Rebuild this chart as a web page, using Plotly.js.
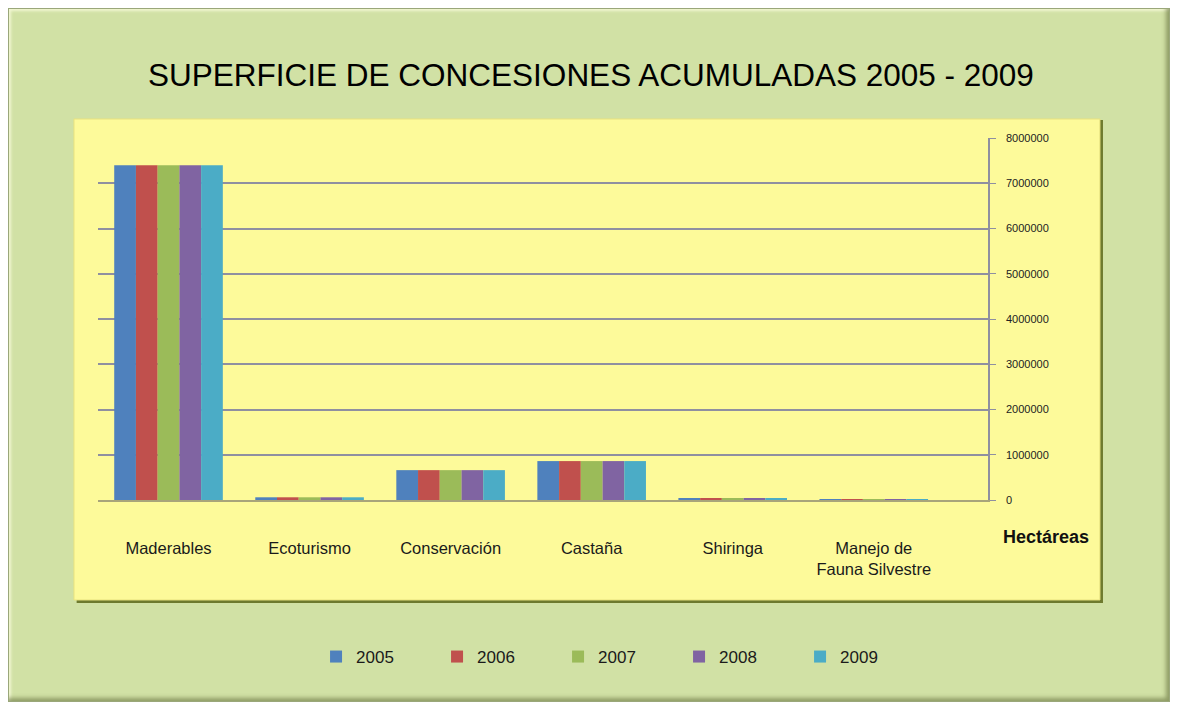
<!DOCTYPE html>
<html>
<head>
<meta charset="utf-8">
<script src="https://cdn.plot.ly/plotly-3.0.1.min.js"></script>
<style>
  html, body { margin: 0; padding: 0; background: #ffffff; }
  #wrap { position: absolute; left: 8px; top: 8px; width: 1162px; height: 694px; }
  #chart { width: 1162px; height: 694px; }
  #bevel { position: absolute; left: 0; top: 0; width: 1162px; height: 694px; pointer-events: none;
           box-shadow: inset 0 0 0 1px #9aa77a, inset -4px -4px 4px rgba(90,100,50,0.55), inset 3px 3px 3px rgba(255,255,230,0.7); }
</style>
</head>
<body>
<div id="wrap"><div id="chart"></div><div id="bevel"></div></div>
<script>
// Categories and series values (hectares)
const categories = ["Maderables", "Ecoturismo", "Conservación", "Castaña", "Shiringa", "Manejo de<br>Fauna Silvestre"];
const years = ["2005", "2006", "2007", "2008", "2009"];
const v2005 = [7400000, 60000, 660000, 860000, 30000, 6000];
const v2006 = [7400000, 60000, 660000, 860000, 30000, 6000];
const v2007 = [7400000, 60000, 660000, 860000, 30000, 6000];
const v2008 = [7400000, 60000, 660000, 860000, 30000, 6000];
const v2009 = [7400000, 60000, 660000, 860000, 30000, 6000];
const yTicks = [0, 1000000, 2000000, 3000000, 4000000, 5000000, 6000000, 7000000, 8000000];
const colors = ["#4F81BD", "#C0504D", "#9BBB59", "#8064A2", "#4BACC6"];

const series = [v2005, v2006, v2007, v2008, v2009];
const sans = "'Liberation Sans', Arial, sans-serif";

const traces = series.map((vals, i) => ({
  type: "bar",
  name: years[i],
  x: categories,
  y: vals,
  marker: { color: colors[i], line: { width: 0 } },
  hoverinfo: "x+y+name"
}));

const layout = {
  width: 1162,
  height: 694,
  paper_bgcolor: "#D1E1A5",
  plot_bgcolor: "rgba(0,0,0,0)",
  margin: { l: 90, r: 182, t: 130, b: 202 },
  barmode: "group",
  bargap: 0.23,
  bargroupgap: 0,
  title: {
    text: "SUPERFICIE DE CONCESIONES ACUMULADAS 2005 - 2009",
    x: 0.5017, xanchor: "center",
    y: 0.9035, yanchor: "middle",
    font: { family: sans, size: 31.5, color: "#000000" }
  },
  xaxis: {
    type: "category",
    range: [-0.5, 5.81],
    showgrid: false,
    zeroline: false,
    showline: true,
    linecolor: "#A8A47A",
    linewidth: 2,
    ticks: "outside",
    ticklen: 32,
    tickcolor: "rgba(0,0,0,0)",
    tickfont: { family: sans, size: 16.5, color: "#1a1a1a" },
    tickangle: 0
  },
  yaxis: {
    side: "right",
    range: [0, 8000000],
    tickvals: yTicks,
    ticktext: yTicks.map(String),
    showgrid: true,
    gridcolor: "#8F8FA0",
    gridwidth: 1.5,
    zeroline: false,
    showline: true,
    linecolor: "#8F8FA0",
    linewidth: 1.5,
    ticks: "outside",
    ticklen: 6,
    tickcolor: "#8F8FA0",
    ticklabelstandoff: 8,
    tickfont: { family: sans, size: 11, color: "#222222" }
  },
  legend: {
    orientation: "h",
    x: 0.245, xanchor: "left",
    y: -0.4337, yanchor: "middle",
    entrywidth: 76,
    entrywidthmode: "pixels",
    itemwidth: 30,
    font: { family: sans, size: 17, color: "#1a1a1a" },
    bgcolor: "rgba(0,0,0,0)",
    traceorder: "normal"
  },
  shapes: [
    { type: "rect", xref: "paper", yref: "paper", layer: "below",
      x0: -0.024, x1: 1.1292, y0: -0.2845, y1: 1.0497,
      fillcolor: "#6E7A2E", line: { width: 0 } },
    { type: "rect", xref: "paper", yref: "paper", layer: "below",
      x0: -0.027, x1: 1.1258, y0: -0.2762, y1: 1.0525,
      fillcolor: "#FDFA9A", line: { color: "#E7E27F", width: 1 } }
  ],
  annotations: [
    { text: "<b>Hectáreas</b>", xref: "paper", yref: "paper",
      x: 1.065, y: -0.102, xanchor: "center", yanchor: "middle", showarrow: false,
      font: { family: sans, size: 18, color: "#111111" } }
  ],
  showlegend: true
};

Plotly.newPlot("chart", traces, layout, { displayModeBar: false });
</script>
</body>
</html>
